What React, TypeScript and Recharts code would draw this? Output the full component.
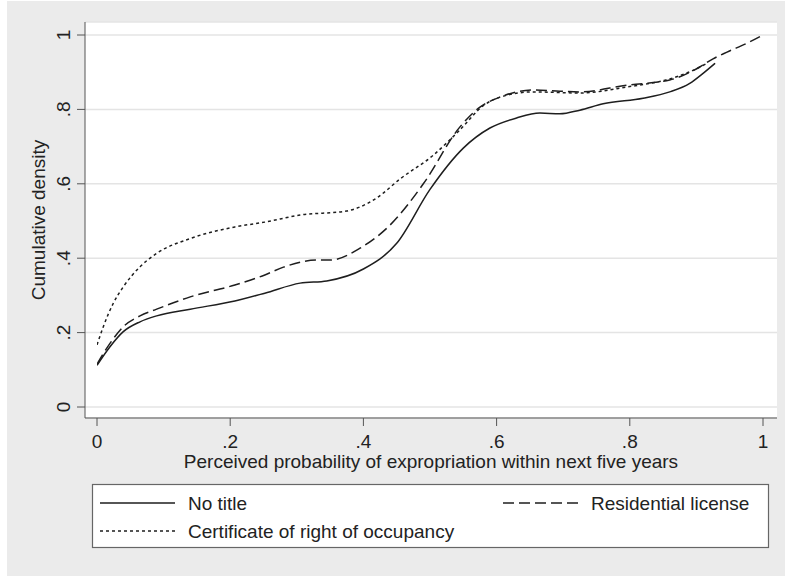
import { LineChart, Line, XAxis, YAxis, CartesianGrid } from 'recharts';

// Cumulative density curves, one per tenure group
const noTitleX = [0, 0.0195, 0.0395, 0.0646, 0.0896, 0.14, 0.207, 0.252, 0.305, 0.345, 0.4, 0.45, 0.5, 0.55, 0.59, 0.63, 0.665, 0.695, 0.725, 0.76, 0.82, 0.86, 0.89, 0.91, 0.928];
const noTitleY = [0.112, 0.162, 0.2025, 0.229, 0.245, 0.263, 0.285, 0.306, 0.333, 0.339, 0.371, 0.44, 0.585, 0.696, 0.75, 0.777, 0.79, 0.788, 0.798, 0.815, 0.83, 0.847, 0.87, 0.897, 0.924];

const residentialX = [0, 0.0195, 0.0395, 0.0646, 0.0896, 0.14, 0.207, 0.252, 0.28, 0.33, 0.35, 0.395, 0.44, 0.49, 0.545, 0.575, 0.605, 0.655, 0.695, 0.725, 0.795, 0.86, 0.905, 0.925, 0.946, 0.976, 1];
const residentialY = [0.115, 0.171, 0.216, 0.245, 0.263, 0.296, 0.328, 0.355, 0.376, 0.395, 0.395, 0.427, 0.489, 0.6, 0.753, 0.806, 0.833, 0.852, 0.849, 0.847, 0.865, 0.879, 0.914, 0.936, 0.954, 0.978, 1];

const certificateX = [0, 0.0095, 0.0245, 0.0395, 0.0646, 0.0896, 0.14, 0.207, 0.252, 0.305, 0.375, 0.42, 0.455, 0.505, 0.545, 0.58, 0.605, 0.655, 0.725, 0.795, 0.86, 0.895, 0.917];
const certificateY = [0.167, 0.216, 0.279, 0.323, 0.377, 0.413, 0.453, 0.484, 0.497, 0.516, 0.527, 0.562, 0.613, 0.677, 0.745, 0.81, 0.833, 0.847, 0.844, 0.86, 0.882, 0.905, 0.925];

const ticks = [0, 0.2, 0.4, 0.6, 0.8, 1];

const toPoints = (xs: number[], ys: number[]) => xs.map((x, i) => ({ x, y: ys[i] }));

// Stata-style labels: ".2" instead of "0.2"
const fmt = (v: number) => (v === 0 || v === 1 ? String(v) : String(v).replace(/^0/, ''));

const FONT = '"Liberation Sans", Arial, sans-serif';
const FS = 19;
const INK = '#1e1e1e';
const AXIS = '#555';

const YTick = ({ x, y, payload }: any) => (
  <text
    x={x}
    y={y}
    transform={`rotate(-90, ${x}, ${y})`}
    textAnchor="middle"
    fontSize={FS}
    fontFamily={FONT}
    fill="#222"
  >
    {fmt(payload.value)}
  </text>
);

const XLabel = ({ viewBox }: any) => (
  <text
    x={viewBox.x + viewBox.width / 2}
    y={viewBox.y + 50}
    textAnchor="middle"
    fontSize={FS}
    fontFamily={FONT}
    fill="#222"
  >
    Perceived probability of expropriation within next five years
  </text>
);

const YLabel = ({ viewBox }: any) => {
  const cx = 45;
  const cy = viewBox.y + viewBox.height / 2;
  return (
    <text
      x={cx}
      y={cy}
      transform={`rotate(-90, ${cx}, ${cy})`}
      textAnchor="middle"
      fontSize={FS}
      fontFamily={FONT}
      fill="#222"
    >
      Cumulative density
    </text>
  );
};

// Boxed legend below the plot region
const LegendBox = () => (
  <svg width={785} height={576} style={{ position: 'absolute', left: 0, top: 0, pointerEvents: 'none' }}>
    <rect x={92.5} y={484.5} width={676} height={63} fill="#fff" stroke="#666" strokeWidth={1.2} />
    <line x1={100} y1={503} x2={175} y2={503} stroke={INK} strokeWidth={1.5} />
    <text x={188} y={510} fontSize={FS} fontFamily={FONT} fill="#222">No title</text>
    <line x1={503} y1={503} x2={580} y2={503} stroke={INK} strokeWidth={1.5} strokeDasharray="11 5" />
    <text x={591} y={510} fontSize={FS} fontFamily={FONT} fill="#222">Residential license</text>
    <line x1={100} y1={531} x2={175} y2={531} stroke={INK} strokeWidth={1.5} strokeDasharray="3 3" />
    <text x={188} y={538} fontSize={FS} fontFamily={FONT} fill="#222">Certificate of right of occupancy</text>
  </svg>
);

export default function App() {
  return (
    <div style={{ position: 'absolute', left: 0, top: 0, width: 785, height: 576, background: '#fff' }}>
      <div style={{ position: 'absolute', left: 7, top: 1, width: 778, height: 575, background: '#ebebeb' }} />
      <div style={{ position: 'absolute', left: 0, top: 0 }}>
        <LineChart width={785} height={576} margin={{ top: 22, right: 8, bottom: 98, left: 0 }}>
          <CartesianGrid vertical={false} stroke="#e4e4e4" strokeWidth={1.5} fill="#fff" />
          <XAxis
            type="number"
            dataKey="x"
            domain={[0, 1]}
            ticks={ticks}
            tickFormatter={fmt}
            padding={{ left: 12, right: 14 }}
            height={60}
            stroke={AXIS}
            tickSize={8}
            tickMargin={9}
            tick={{ fontSize: FS, fontFamily: FONT, fill: '#222' }}
            label={<XLabel />}
            allowDataOverflow
          />
          <YAxis
            type="number"
            dataKey="y"
            domain={[0, 1]}
            ticks={ticks}
            width={85}
            padding={{ top: 13, bottom: 11 }}
            stroke={AXIS}
            tickSize={8}
            tickMargin={7}
            tick={<YTick />}
            label={<YLabel />}
          />
          <Line
            data={toPoints(noTitleX, noTitleY)}
            dataKey="y"
            type="monotone"
            stroke={INK}
            strokeWidth={1.5}
            dot={false}
            isAnimationActive={false}
          />
          <Line
            data={toPoints(residentialX, residentialY)}
            dataKey="y"
            type="monotone"
            stroke={INK}
            strokeWidth={1.5}
            strokeDasharray="11 5"
            dot={false}
            isAnimationActive={false}
          />
          <Line
            data={toPoints(certificateX, certificateY)}
            dataKey="y"
            type="monotone"
            stroke={INK}
            strokeWidth={1.5}
            strokeDasharray="3 3"
            dot={false}
            isAnimationActive={false}
          />
        </LineChart>
      </div>
      <LegendBox />
    </div>
  );
}
